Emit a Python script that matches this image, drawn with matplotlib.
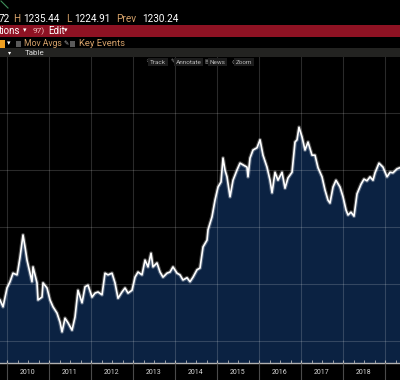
import matplotlib
matplotlib.use('Agg')
import matplotlib.pyplot as plt
from matplotlib.patches import Rectangle
from matplotlib.ticker import FixedLocator

# ---- data (decimal years, price) ----
dates = [2009.833, 2009.905, 2010.000, 2010.071, 2010.143, 2010.238, 2010.262, 2010.310,
         2010.381, 2010.429, 2010.476, 2010.548, 2010.595, 2010.619, 2010.714, 2010.738,
         2010.833, 2010.857, 2010.952, 2011.024, 2011.095, 2011.190, 2011.262, 2011.310,
         2011.381, 2011.452, 2011.548, 2011.619, 2011.690, 2011.786, 2011.857, 2011.929,
         2012.024, 2012.095, 2012.167, 2012.262, 2012.333, 2012.405, 2012.500, 2012.571,
         2012.643, 2012.738, 2012.810, 2012.881, 2012.976, 2013.048, 2013.119, 2013.214,
         2013.286, 2013.357, 2013.429, 2013.476, 2013.571, 2013.643, 2013.714, 2013.810,
         2013.881, 2013.952, 2014.048, 2014.119, 2014.190, 2014.286, 2014.357, 2014.429,
         2014.524, 2014.595, 2014.667, 2014.762, 2014.786, 2014.881, 2014.952, 2015.024,
         2015.095, 2015.143, 2015.190, 2015.238, 2015.310, 2015.381, 2015.476, 2015.548,
         2015.619, 2015.714, 2015.738, 2015.786, 2015.857, 2015.952, 2016.024, 2016.095,
         2016.190, 2016.262, 2016.310, 2016.381, 2016.452, 2016.548, 2016.619, 2016.690,
         2016.786, 2016.857, 2016.905, 2016.952, 2017.024, 2017.095, 2017.167, 2017.262,
         2017.333, 2017.405, 2017.500, 2017.571, 2017.643, 2017.690, 2017.762, 2017.833,
         2017.929, 2018.000, 2018.071, 2018.119, 2018.190, 2018.262, 2018.333, 2018.429,
         2018.500, 2018.571, 2018.643, 2018.714, 2018.762, 2018.857, 2018.952, 2019.048,
         2019.119, 2019.190, 2019.286, 2019.357]
prices = [972, 960, 993, 1004, 1019, 1016, 1025, 1047,
          1086, 1065, 1042, 1019, 1004, 1030, 1002, 972,
          977, 1002, 993, 972, 960, 949, 933, 916,
          940, 932, 919, 942, 989, 967, 995, 998,
          977, 984, 986, 981, 1019, 1016, 1019, 1002,
          975, 986, 993, 984, 989, 1012, 1021, 1016,
          1042, 1030, 1054, 1030, 1037, 1021, 1012, 1019,
          1021, 1030, 1019, 1016, 1007, 1011, 1004, 1012,
          1025, 1028, 1065, 1077, 1095, 1118, 1147, 1170,
          1179, 1221, 1200, 1188, 1153, 1182, 1200, 1212,
          1209, 1205, 1188, 1221, 1235, 1239, 1253, 1226,
          1205, 1182, 1160, 1196, 1182, 1196, 1168, 1186,
          1196, 1249, 1253, 1275, 1258, 1235, 1249, 1226,
          1226, 1204, 1188, 1165, 1147, 1142, 1170, 1182,
          1170, 1153, 1130, 1121, 1126, 1119, 1158, 1175,
          1184, 1181, 1188, 1182, 1195, 1212, 1205, 1188,
          1196, 1195, 1202, 1204]

year_ticks = [2010, 2011, 2012, 2013, 2014, 2015, 2016, 2017, 2018, 2019]
year_labels = ['2010', '2011', '2012', '2013', '2014', '2015', '2016', '2017', '2018']
price_grid = [900, 1000, 1100, 1200, 1300]

hdr_last = '72'
hdr_high = '1235.44'
hdr_low = '1224.91'
hdr_prev = '1230.24'

W, H = 400, 380
fig = plt.figure(figsize=(4, 3.8), dpi=100, facecolor='black')

def fx(x):
    return x / W

def fy(y):
    return 1 - y / H

FAM = ['Roboto', 'DejaVu Sans']
TAN = '#d6a26a'

# ---- header ----
fig.add_artist(plt.Line2D([fx(1), fx(8)], [fy(1), fy(8)], color='#3f8f5a', lw=0.8))
row1 = fy(19)
for x, s, c in [(-1, hdr_last, 'white'), (13, 'H', TAN), (23, hdr_high, 'white'),
                (66, 'L', TAN), (74, hdr_low, 'white'), (116, 'Prev', TAN),
                (142, hdr_prev, 'white')]:
    fig.text(fx(x), row1, s, color=c, fontsize=7.2, family=FAM, va='center', ha='left')

fig.add_artist(Rectangle((0, fy(37)), 1, (37 - 25) / H, transform=fig.transFigure,
                         facecolor='#8e1223', edgecolor='none'))
row2 = fy(31)
fig.text(fx(-1), row2, 'tions', color='white', fontsize=7, family=FAM, va='center')
fig.text(fx(23), row2, '▾', color='white', fontsize=5, family=FAM, va='center')
fig.text(fx(33), row2, '97)', color='#f0c0c0', fontsize=6, family=FAM, va='center')
fig.text(fx(48), row2, 'Edit', color='white', fontsize=7, family=FAM, va='center')
fig.text(fx(64), row2, '▾', color='white', fontsize=5, family=FAM, va='center')

row3 = fy(44)
fig.add_artist(Rectangle((fx(0), fy(47.5)), fx(5), 7.5 / H, transform=fig.transFigure,
                         facecolor='#f0a020', edgecolor='none'))
fig.text(fx(7), row3, '▾', color='white', fontsize=5, family=FAM, va='center')
for xs in (16, 70):
    fig.add_artist(Rectangle((fx(xs), fy(46.5)), fx(5), 5 / H, transform=fig.transFigure,
                             facecolor='#5a5a5a', edgecolor='none'))
fig.text(fx(24), row3, 'Mov Avgs', color=TAN, fontsize=6.2, family=FAM, va='center')
fig.text(fx(63.5), row3, '✎', color='#bbbbbb', fontsize=4.5, family=FAM, va='center')
fig.text(fx(79), row3, 'Key Events', color=TAN, fontsize=6.8, family=FAM, va='center')

fig.add_artist(Rectangle((0, fy(57)), 1, 8.5 / H, transform=fig.transFigure,
                         facecolor='#232321', edgecolor='none'))
fig.text(fx(8), fy(52.8), '▾', color='white', fontsize=4.5, family=FAM, va='center')
fig.text(fx(25), fy(52.8), 'Table', color='#dddddd', fontsize=5.8, family=FAM, va='center')

# ---- main chart ----
y_bottom = 861.4
y_top = 1398.2
x_left, x_right = 2009.833, 2019.357
ax = fig.add_axes([0, 17 / H, 1, 306 / H])
ax.set_facecolor('black')
ax.set_xlim(x_left, x_right)
ax.set_ylim(y_bottom, y_top)
ax.fill_between(dates, prices, y_bottom, color='#0b2242', lw=0, zorder=1)
ax.set_xticks(year_ticks)
ax.set_yticks(price_grid)
ax.xaxis.set_minor_locator(FixedLocator([y + q for y in range(2009, 2020) for q in (0.25, 0.5, 0.75)]))
ax.set_axisbelow(False)
ax.grid(True, which='major', color='white', alpha=0.17, lw=0.8)
ax.plot(dates, prices, color='white', lw=2.8, alpha=0.28, zorder=4, solid_joinstyle='round')
ax.plot(dates, prices, color='white', lw=1.2, zorder=5, solid_joinstyle='round')
ax.tick_params(axis='y', length=0, labelleft=False)
ax.tick_params(axis='x', which='both', direction='in', length=2, color='#b5b5b5',
               labelbottom=False)
for s in ('top', 'left', 'right'):
    ax.spines[s].set_visible(False)
ax.spines['bottom'].set_color('#b0b0b0')
ax.spines['bottom'].set_linewidth(1.0)

# toolbar overlay
tb_y = fy(62)
for x, icon, label in [(145, '◦', 'Track'), (171, '✎', 'Annotate'), (205, '▤', 'News'),
                       (231, '⊕', 'Zoom')]:
    fig.text(fx(x), tb_y, icon, color='#9a9a9a', fontsize=4, family=FAM, va='center')
    fig.text(fx(x + 5), tb_y, label, color='#b8b8b8', fontsize=4.6, family=FAM, va='center',
             bbox=dict(boxstyle='square,pad=0.25', facecolor='#1c1c1c', edgecolor='none'))

# ---- year label band ----
bx = fig.add_axes([0, 0, 1, 17 / H])
bx.set_xlim(x_left, x_right)
bx.set_ylim(0, 1)
bx.axis('off')
bx.vlines(year_ticks, 0, 1, color='#4a4a4a', lw=0.8)
for yr, lab in zip(year_ticks, year_labels):
    bx.text(yr + 0.5, 0.45, lab, color='#d8d8d8', fontsize=5, family=FAM,
            ha='center', va='center')

fig.savefig('out.png', dpi=100, facecolor='black')
